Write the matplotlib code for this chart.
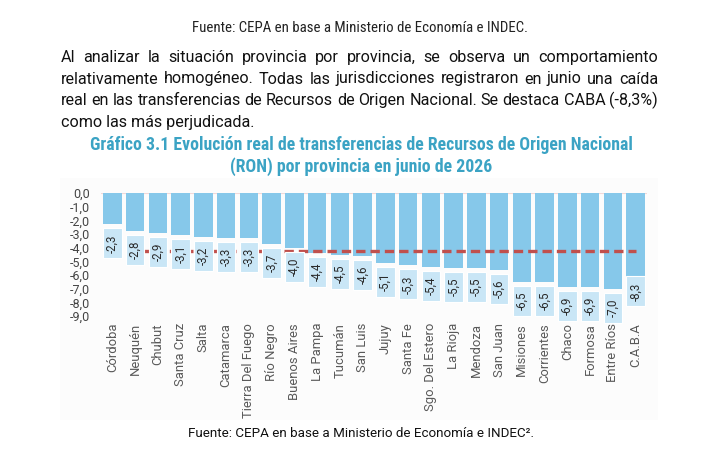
import matplotlib
matplotlib.use('Agg')
import matplotlib.pyplot as plt
from matplotlib import font_manager as fm
from matplotlib.patches import Rectangle

# ---------------- data ----------------
provincias = ["Córdoba", "Neuquén", "Chubut", "Santa Cruz", "Salta", "Catamarca",
              "Tierra Del Fuego", "Río Negro", "Buenos Aires", "La Pampa", "Tucumán",
              "San Luis", "Jujuy", "Santa Fe", "Sgo. Del Estero", "La Rioja", "Mendoza",
              "San Juan", "Misiones", "Corrientes", "Chaco", "Formosa", "Entre Ríos", "C.A.B.A"]
variacion = [-2.3, -2.8, -2.9, -3.1, -3.2, -3.3, -3.3, -3.7, -4.0, -4.4, -4.5, -4.6,
             -5.1, -5.3, -5.4, -5.5, -5.5, -5.6, -6.5, -6.5, -6.9, -6.9, -7.0, -8.3]
promedio = -4.25
y_ticks = [0, -1, -2, -3, -4, -5, -6, -7, -8, -9]

fuente_top = "Fuente: CEPA en base a Ministerio de Economía e INDEC."
fuente_bottom = "Fuente: CEPA en base a Ministerio de Economía e INDEC²."
parrafo = [
    "Al analizar la situación provincia por provincia, se observa un comportamiento",
    "relativamente homogéneo. Todas las jurisdicciones registraron en junio una caída",
    "real en las transferencias de Recursos de Origen Nacional. Se destaca CABA (-8,3%)",
    "como las más perjudicada.",
]
titulo = ["Gráfico 3.1 Evolución real de transferencias de Recursos de Origen Nacional",
          "(RON) por provincia en junio de 2026"]

# ---------------- style ----------------
W, H = 706, 453
BAR = "#86c8ea"
BOX = "#c9e6f6"
TITLE_C = "#3ba3c4"
RED = "#c0504d"

available = {f.name for f in fm.fontManager.ttflist}
def pick(cands):
    for c in cands:
        if c in available:
            return c
    return "DejaVu Sans"
BODY = pick(["Roboto", "Open Sans", "DejaVu Sans"])
COND = pick(["Roboto Condensed", "Liberation Sans Narrow", "Roboto"])

fig = plt.figure(figsize=(W / 100, H / 100), dpi=100)
fig.patch.set_facecolor("white")
renderer = fig.canvas.get_renderer()

def fx(x):
    return x / W
def fy(y):
    return 1 - y / H

def width_px(t):
    return t.get_window_extent(renderer=renderer).width

def fit(t, target):
    fs = t.get_fontsize()
    w = width_px(t)
    t.set_fontsize(fs * target / w)

# faint chart panel
panel = Rectangle((fx(60), fy(420)), fx(658) - fx(60), fy(178) - fy(420),
                  transform=fig.transFigure, facecolor="#fcfcfc",
                  edgecolor="none", zorder=-5)
fig.patches.append(panel)

# top source
t = fig.text(fx(360), fy(32), fuente_top, ha="center", va="baseline",
             family=COND, fontsize=9, color="#222222")
fit(t, 336)

# justified paragraph
left, right = 61, 658
baselines = [62, 83.5, 105, 126.5]
pfs = 12.0
probe = fig.text(0, 0, parrafo[2], family=BODY, fontsize=pfs)
nat = width_px(probe)
probe.remove()
pfs = pfs * (right - left) / nat
for i, line in enumerate(parrafo):
    words = line.split(" ")
    if i < len(parrafo) - 1:
        texts = [fig.text(0, fy(baselines[i]), w, family=BODY, fontsize=pfs,
                          color="#111111", va="baseline", ha="left") for w in words]
        widths = [width_px(tt) for tt in texts]
        gap = (right - left - sum(widths)) / (len(words) - 1)
        x = left
        for tt, w in zip(texts, widths):
            tt.set_x(fx(x))
            x += w + gap
    else:
        fig.text(fx(left), fy(baselines[i]), line, family=BODY, fontsize=pfs,
                 color="#111111", va="baseline", ha="left")

# title
tt1 = fig.text(fx(361), fy(150), titulo[0], ha="center", va="baseline",
               family=COND, fontweight="bold", fontsize=11.8, color=TITLE_C)
fit(tt1, 544)
tt2 = fig.text(fx(361), fy(172), titulo[1], ha="center", va="baseline",
               family=COND, fontweight="bold", fontsize=tt1.get_fontsize(), color=TITLE_C)

# bottom source
fb = fig.text(fx(361), fy(437), fuente_bottom, ha="center", va="baseline",
              family=BODY, fontsize=10, color="#111111")
fit(fb, 344)

# ---------------- chart ----------------
ax = fig.add_axes([fx(101), fy(316), fx(647) - fx(101), fy(193) - fy(316)])
ax.set_facecolor("none")
ax.set_zorder(2)
x = list(range(len(provincias)))
bw = 0.82
ax.bar(x, variacion, width=bw, color=BAR, zorder=2)
ax.axhline(0, color="#f1d9d9", lw=0.8, zorder=1)
ax.plot([x[0], x[-1]], [promedio, promedio], color=RED, lw=2.4,
        linestyle=(0, (2.8, 1.5)), zorder=3)

ax.set_xlim(-0.5, len(provincias) - 0.5)
ax.set_ylim(y_ticks[-1], y_ticks[0])

px_per_unit = (316 - 193) / 9.0
gap_u = 4 / px_per_unit
box_h = 30 / px_per_unit
for xi, v in zip(x, variacion):
    top = v - gap_u
    bottom = top - box_h
    if bottom < -10.2:
        top = v + box_h
        bottom = v
    ax.add_patch(Rectangle((xi - bw / 2, bottom), bw, top - bottom, facecolor=BOX,
                           edgecolor="white", lw=0.8, zorder=4, clip_on=False))
    ax.text(xi, (top + bottom) / 2, f"{v:.1f}".replace(".", ","), rotation=90,
            ha="center", va="center", family=BODY, fontsize=8.3, color="#2a2a2a",
            zorder=5, clip_on=False)

ax.set_yticks(y_ticks)
ax.set_yticklabels([f"{v:.1f}".replace(".", ",") for v in y_ticks],
                   family=BODY, fontsize=9, color="#444444")
ax.set_xticks(x)
ax.set_xticklabels(provincias, rotation=90, family=BODY, fontsize=9.4,
                   color="#595959", va="top", ha="center")
ax.tick_params(axis="y", length=0, pad=8)
ax.tick_params(axis="x", length=0, pad=5)
for s in ax.spines.values():
    s.set_visible(False)

fig.savefig("out.png", dpi=100, facecolor="white")
